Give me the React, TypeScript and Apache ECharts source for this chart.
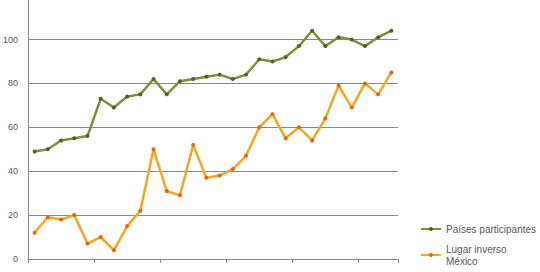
import React, { useEffect, useRef } from "react";
import * as echarts from "echarts";

const categories = [
  "1", "2", "3", "4", "5", "6", "7", "8", "9", "10",
  "11", "12", "13", "14", "15", "16", "17", "18", "19", "20",
  "21", "22", "23", "24", "25", "26", "27", "28",
];
const paisesParticipantes = [
  49, 50, 54, 55, 56, 73, 69, 74, 75, 82,
  75, 81, 82, 83, 84, 82, 84, 91, 90, 92,
  97, 104, 97, 101, 100, 97, 101, 104,
];
const lugarInversoMexico = [
  12, 19, 18, 20, 7, 10, 4, 15, 22, 50,
  31, 29, 52, 37, 38, 41, 47, 60, 66, 55,
  60, 54, 64, 79, 69, 80, 75, 85,
];
// the top of the value axis is cut off by the picture's edge
const yAxisRange = { min: 0, max: 118, interval: 20 };
const seriesNames = ["Países participantes", "Lugar inverso México"];

export default function App() {
  const ref = useRef<HTMLDivElement>(null);
  useEffect(() => {
    document.body.style.margin = "0";
    if (!ref.current) return;
    const chart = echarts.init(ref.current, undefined, { renderer: "svg" });
    const textColor = "#595959";
    const gridColor = "#8a8a8a";
    const font = "Liberation Sans, Arial, sans-serif";
    chart.setOption({
      animation: false,
      textStyle: { fontFamily: font },
      grid: { left: 27, right: 142, top: 0, bottom: 13, containLabel: false },
      legend: [
        {
          data: [seriesNames[0]],
          orient: "vertical",
          left: 420,
          top: 224,
          padding: 0,
          itemWidth: 20,
          itemHeight: 5,
          textStyle: { color: textColor, fontSize: 10, fontFamily: font },
        },
        {
          data: [seriesNames[1]],
          orient: "vertical",
          left: 420,
          top: 237,
          padding: 0,
          itemWidth: 20,
          itemHeight: 5,
          formatter: () => "Lugar inverso\nMéxico",
          textStyle: {
            color: textColor,
            fontSize: 10,
            lineHeight: 12,
            padding: [12, 0, 0, 0],
            fontFamily: font,
          },
        },
      ],
      xAxis: {
        type: "category",
        data: categories,
        boundaryGap: true,
        axisLine: { show: true, lineStyle: { color: gridColor, width: 1 } },
        axisTick: { show: true, interval: 4, length: 4, lineStyle: { color: gridColor } },
        axisLabel: { show: false },
        splitLine: { show: false },
      },
      yAxis: {
        type: "value",
        min: yAxisRange.min,
        max: yAxisRange.max,
        interval: yAxisRange.interval,
        axisLine: { show: true, lineStyle: { color: gridColor, width: 1 } },
        axisTick: { show: false },
        axisLabel: {
          color: textColor,
          fontSize: 9,
          margin: 10,
          fontFamily: font,
          showMaxLabel: false,
        },
        splitLine: { show: true, showMaxLine: false, lineStyle: { color: gridColor, width: 1 } },
      },
      series: [
        {
          name: seriesNames[0],
          type: "line",
          data: paisesParticipantes,
          symbol: "circle",
          symbolSize: 4,
          showAllSymbol: true,
          lineStyle: { color: "#77933C", width: 2.5 },
          itemStyle: { color: "#4F6228" },
        },
        {
          name: seriesNames[1],
          type: "line",
          data: lugarInversoMexico,
          symbol: "circle",
          symbolSize: 4,
          showAllSymbol: true,
          lineStyle: { color: "#F5A623", width: 2.5 },
          itemStyle: { color: "#E8650E" },
        },
      ],
    });
    return () => chart.dispose();
  }, []);
  return <div ref={ref} style={{ width: 540, height: 272 }} />;
}
